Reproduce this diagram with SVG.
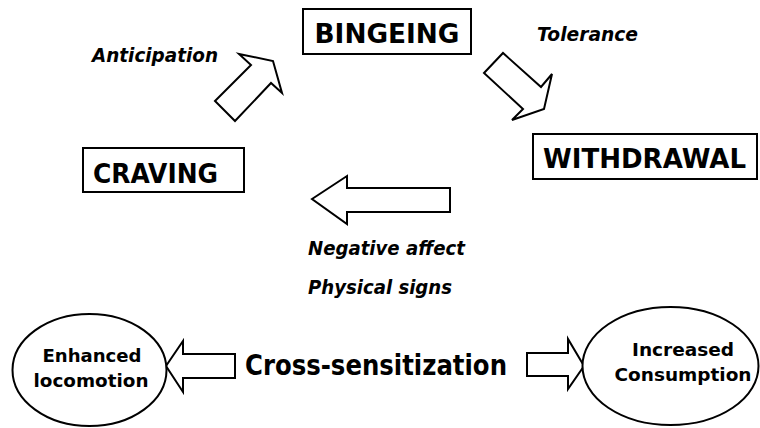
<svg xmlns="http://www.w3.org/2000/svg" width="760" height="428" viewBox="0 0 760 428">
<style>
.box{fill:#fff;stroke:#000;stroke-width:2}
.arr{fill:#fff;stroke:#000;stroke-width:2;stroke-linejoin:miter}
.ell{fill:#fff;stroke:#000;stroke-width:2}
.t{font-family:"DejaVu Sans",Verdana,sans-serif;font-weight:bold;fill:#000}
.big{font-size:27px}
.lab{font-size:19px;font-style:italic}
.el{font-size:18px;text-anchor:middle}
.cs{font-size:29px}
</style>
<rect width="760" height="428" fill="#fff"/>
<g id="connectors">
<polygon class="arr" points="215,101 251,65 239,54 273,61 282,93 271,83 235,121"/>
<polygon class="arr" points="484,73 503,53 541,87 552,74 544,109 512,120 523,109"/>
<polygon class="arr" points="312,199 347,176 347,188 450,188 450,212 347,212 347,224"/>
<polygon class="arr" points="166,366 183,341 183,354 235,354 235,378 183,378 183,392"/>
<polygon class="arr" points="584,366 568,339 568,353 527,353 527,376 568,376 568,389"/>
</g>
<g id="bingeing">
<rect class="box" x="303" y="9" width="168" height="45"/>
<text class="t big" x="387" y="43" text-anchor="middle" textLength="145" lengthAdjust="spacingAndGlyphs">BINGEING</text>
</g>
<g id="craving">
<rect class="box" x="83" y="148" width="161" height="44"/>
<text class="t big" x="155.5" y="183" text-anchor="middle" textLength="125" lengthAdjust="spacingAndGlyphs">CRAVING</text>
</g>
<g id="withdrawal">
<rect class="box" x="533" y="134" width="224" height="45"/>
<text class="t big" x="644.5" y="168" text-anchor="middle" textLength="203" lengthAdjust="spacingAndGlyphs">WITHDRAWAL</text>
</g>
<g id="labels">
<text class="t lab" x="92" y="62" textLength="126" lengthAdjust="spacingAndGlyphs">Anticipation</text>
<text class="t lab" x="537" y="41" textLength="101" lengthAdjust="spacingAndGlyphs">Tolerance</text>
<text class="t lab" x="308" y="255" textLength="157" lengthAdjust="spacingAndGlyphs">Negative affect</text>
<text class="t lab" x="308" y="294" textLength="144" lengthAdjust="spacingAndGlyphs">Physical signs</text>
</g>
<g id="cross-sensitization">
<text class="t cs" x="245" y="375" textLength="262" lengthAdjust="spacingAndGlyphs">Cross-sensitization</text>
</g>
<g id="enhanced-locomotion">
<ellipse class="ell" cx="89.5" cy="370" rx="77" ry="56"/>
<text class="t el" x="92" y="362" textLength="99" lengthAdjust="spacingAndGlyphs">Enhanced</text>
<text class="t el" x="91" y="387" textLength="115" lengthAdjust="spacingAndGlyphs">locomotion</text>
</g>
<g id="increased-consumption">
<ellipse class="ell" cx="670.5" cy="366" rx="88" ry="59"/>
<text class="t el" x="683" y="356" textLength="102" lengthAdjust="spacingAndGlyphs">Increased</text>
<text class="t el" x="683" y="381" textLength="137" lengthAdjust="spacingAndGlyphs">Consumption</text>
</g>
</svg>
